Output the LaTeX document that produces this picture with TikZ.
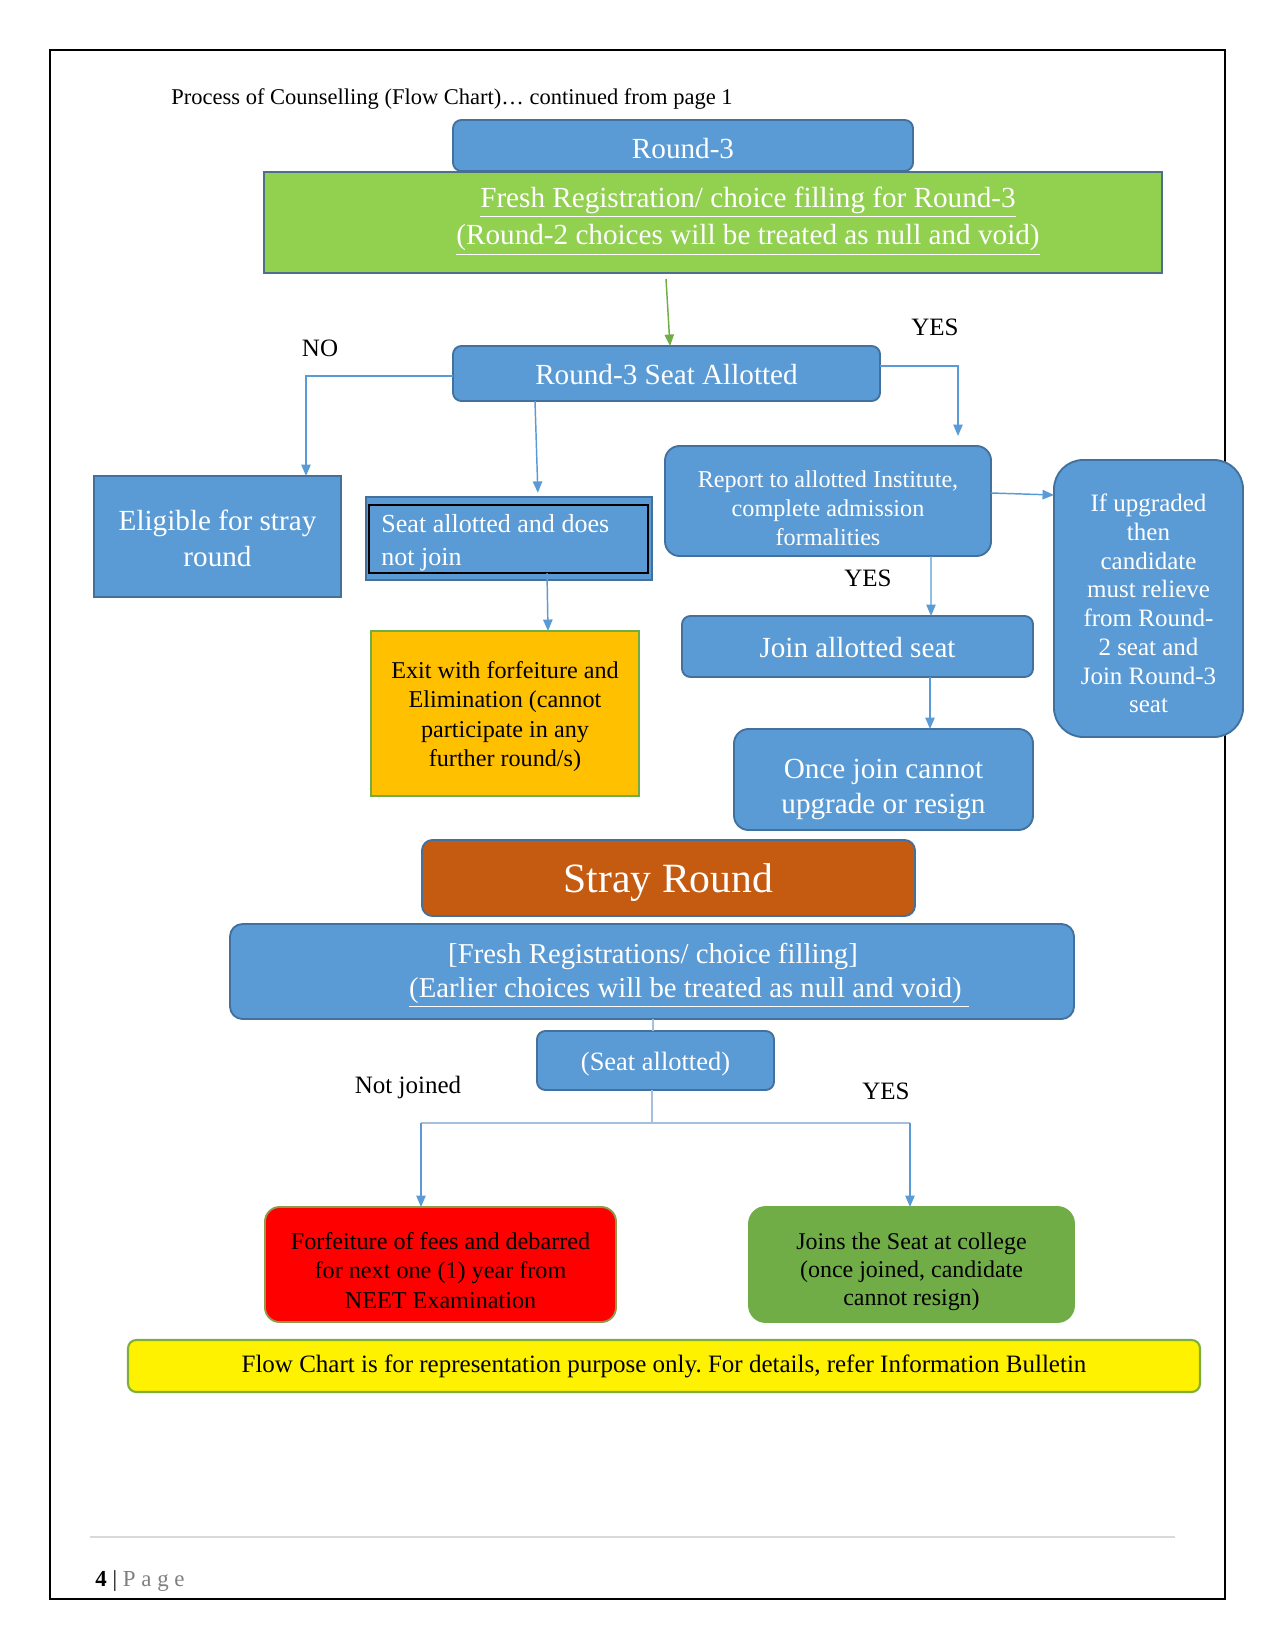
\documentclass[tikz,border=0pt]{standalone}
\usepackage{fontspec}
\setmainfont{Liberation Serif}
\usetikzlibrary{calc,arrows.meta}
\definecolor{bfill}{HTML}{5B9BD5}
\definecolor{bline}{HTML}{41719C}
\definecolor{gfill}{HTML}{92D050}
\definecolor{gline}{HTML}{4E6E8E}
\definecolor{ofill}{HTML}{FFC000}
\definecolor{oline}{HTML}{70AD47}
\definecolor{sfill}{HTML}{C55A11}
\definecolor{rline}{HTML}{8E9A4A}
\definecolor{g2fill}{HTML}{70AD47}
\definecolor{yline}{HTML}{7DAF3A}
\definecolor{lightc}{HTML}{A5C0DD}
\definecolor{arrg}{HTML}{70AD47}
\newcommand{\fsA}{\fontsize{14}{17}\selectfont}
\newcommand{\fsB}{\fontsize{11.6}{14}\selectfont}
\newcommand{\fsL}{\fontsize{12}{14}\selectfont}
% box node: options, name, x1, y1, x2, y2, text
\newcommand{\bx}[7]{\node[#1, minimum width={(#5-#3)*0.48pt}, minimum height={(#6-#4)*0.48pt}] (#2) at ({(#3+#5)/2},{(#4+#6)/2}) {#7};}
% box node with its text shifted down by #7 units
\newcommand{\bxt}[8]{\bx{#1}{#2}{#3}{#4}{#5}{#6}{}\node[#1, draw=none, fill=none, minimum width=0pt, minimum height=0pt, rounded corners=0pt] (#2-t) at ($(#2.center)+(0,#7)$) {#8};}
\frenchspacing
\begin{document}
\begin{tikzpicture}[x=0.48pt,y=-0.48pt,
  box/.style={draw=bline, line width=0.9pt, inner sep=0pt, outer sep=0pt, align=center},
  bluebox/.style={box, fill=bfill, text=white},
  arr/.style={draw=bfill, line width=0.7pt, -{Triangle[width=4.5pt,length=5.5pt]}},
  lightln/.style={draw=lightc, line width=0.7pt},
  lbl/.style={font=\fsL, inner sep=0pt}
]
\fill[white] (0,0) rectangle (1275,1650);
\useasboundingbox (0,0) rectangle (1275,1650);
% page border
\draw[black, line width=0.9pt] (50,50) rectangle (1225,1599);

\node[anchor=west, font=\fontsize{10.8}{13}\selectfont, inner sep=0pt] (title) at (171,99) {Process of Counselling (Flow Chart)… continued from page 1};

% top part
\bx{box, draw=gline, line width=1pt, fill=gfill}{green}{264}{172}{1162}{273}{}
\node[text=white, align=center, font=\fsA, inner sep=0pt] (greentxt) at (748,221) {\underline{Fresh Registration/ choice filling for Round-3}\\[1pt]\underline{(Round-2 choices will be treated as null and void)}};
\bxt{bluebox, rounded corners=4pt, font=\fsA}{r3}{453}{120}{913}{171}{3}{Round-3}

\bxt{bluebox, rounded corners=4pt, font=\fsA}{r3seat}{453}{346}{880}{401}{1}{Round-3 Seat Allotted}

\bxt{bluebox, font=\fsA}{elig}{94}{476}{341}{597}{2}{Eligible for stray\\round}

\bx{bluebox}{seat}{366}{497}{652}{580}{}
\bx{draw=black, line width=0.8pt, inner sep=0pt, outer sep=0pt}{seatin}{369}{505}{648}{573}{}
\node[anchor=west, text=white, align=left, inner sep=0pt, font=\fontsize{12.5}{16}\selectfont] (seattxt) at (381,543) {Seat allotted and does\\not join};

\bxt{box, draw=oline, fill=ofill, text=black, font=\fsB}{exit}{371}{631}{639}{796}{3}{Exit with forfeiture and\\Elimination (cannot\\participate in any\\further round/s)}

\bxt{bluebox, rounded corners=7pt, font=\fsB}{report}{665}{446}{991}{556}{7}{Report to allotted Institute,\\complete admission\\formalities}

\bxt{bluebox, rounded corners=14pt, font=\fontsize{12}{13.8}\selectfont}{ifup}{1054}{460}{1243}{737}{5}{If upgraded\\then\\candidate\\must relieve\\from Round-\\2 seat and\\Join Round-3\\seat}

\bxt{bluebox, rounded corners=4pt, font=\fsA}{join}{682}{616}{1033}{677}{1}{Join allotted seat}

\bxt{bluebox, rounded corners=7pt, font=\fontsize{14}{16.7}\selectfont}{once}{734}{729}{1033}{830}{10}{Once join cannot\\upgrade or resign}

% labels
\node[lbl] (no) at (320,348) {NO};
\node[lbl] (yes1) at (935,327) {YES};
\node[lbl] (yes2) at (868,578) {YES};

% connectors top
\draw[draw=arrg, line width=0.7pt, -{Triangle[width=4.5pt,length=5.5pt]}] ($(green.south)+(-47,6)$) -- ($(r3seat.north)+(3.5,0)$);
\draw[arr] ($(r3seat.west)+(0,2.5)$) -| ($(elig.north)+(88.5,0)$);
\draw[arr, shorten >=2pt] ($(r3seat.south)+(-131.5,0)$) -- ($(seat.north)+(29,0)$);
\draw[arr, shorten >=4.8pt] ($(r3seat.east)+(0,-7.5)$) -| ($(report.north)+(130,0)$);
\draw[arr] ($(seatin.south)+(38.5,0)$) -- ($(exit.north)+(43,0)$);
\draw[arr] ($(report.east)+(0,-8)$) -- ($(ifup.west)+(0,-103.5)$);
\draw[arr] ($(report.south)+(103,0)$) -- ($(join.north)+(73.5,0)$);
\draw[arr] ($(join.south)+(72.5,0)$) -- ($(once.north)+(46.5,0)$);

% stray round
\bxt{box, fill=sfill, text=white, rounded corners=5pt, font=\fontsize{20}{24}\selectfont}{stray}{422}{840}{915}{916}{5}{Stray Round}

\bx{bluebox, rounded corners=6pt}{fresh}{230}{924}{1074}{1019}{}
\node[text=white, font=\fontsize{13.8}{16}\selectfont, inner sep=0pt] (fresh1) at (653,956) {[Fresh Registrations/ choice filling]};
\node[text=white, font=\fontsize{13.8}{16}\selectfont, inner sep=0pt] (fresh2) at (689,993) {\underline{(Earlier choices will be treated as null and void)\ }};

\bxt{bluebox, rounded corners=4pt, font=\fontsize{12.7}{15}\selectfont}{sseat}{537}{1031}{774}{1090}{4}{(Seat allotted)}

\node[lbl] (notj) at (408,1087) {Not joined};
\node[lbl] (yes3) at (886,1091) {YES};

\bxt{box, draw=rline, fill=red, text=black, rounded corners=7pt, font=\fsB}{red}{265}{1207}{616}{1322}{6}{Forfeiture of fees and debarred\\for next one (1) year from\\NEET Examination}

\bxt{box, draw=g2fill, fill=g2fill, text=black, rounded corners=8pt, font=\fontsize{11.5}{13.4}\selectfont}{g2}{749}{1207}{1074}{1322}{7}{Joins the Seat at college\\(once joined, candidate\\cannot resign)}

\draw[lightln] ($(fresh.south)+(1,0)$) -- ($(sseat.north)+(-2.5,0)$);
\coordinate (split) at (652,1123);
\coordinate (hl) at (421,1123);
\coordinate (hr) at (910,1123);
\draw[lightln] ($(sseat.south)+(-3.5,0)$) -- (split);
\draw[lightln] (hl) -- (hr);
\draw[arr] (hl) -- ($(red.north)+(-19.5,0)$);
\draw[arr] (hr) -- ($(g2.north)+(-1.5,0)$);

\bx{box, draw=yline, line width=1pt, fill=yellow, text=black, rounded corners=4pt, font=\fsL}{note}{128}{1340}{1200}{1392}{Flow Chart is for representation purpose only. For details, refer Information Bulletin}

% footer
\draw[black!15, line width=1pt] (90,1537) -- (1175,1537);
\node[anchor=west, inner sep=0pt, font=\fontsize{11}{13}\selectfont] (pg) at (95,1581) {\textbf{4} | {\color{gray}P a g e}};
\end{tikzpicture}
\end{document}
